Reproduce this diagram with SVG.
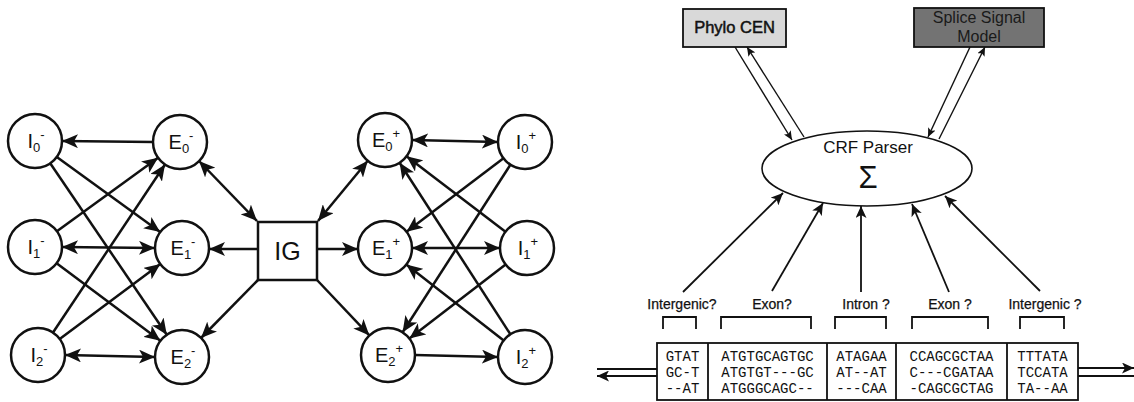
<svg xmlns="http://www.w3.org/2000/svg" width="1134" height="402" viewBox="0 0 1134 402">
  <style>
    .st { fill: #fff; stroke: #111; stroke-width: 2.5; }
    .lbl { font-family: "Liberation Sans", Arial, sans-serif; font-size: 20px; fill: #111; text-anchor: middle; }
    .sub { font-size: 13px; }
    .edge { stroke: #111; stroke-width: 2.5; fill: none; }
    .thin { stroke: #111; stroke-width: 1.8; fill: none; }
    .fine { stroke: #111; stroke-width: 1.4; fill: none; }
    .cap { font-family: "Liberation Sans", Arial, sans-serif; font-size: 14px; fill: #111; stroke: #111; stroke-width: 0.25; text-anchor: middle; }
    .seq { font-family: "Liberation Mono", "Courier New", monospace; font-size: 14px; fill: #111; text-anchor: middle; }
    .box { fill: #fff; stroke: #111; stroke-width: 1.8; }
  </style>
  <defs>
    <marker id="ah" markerUnits="userSpaceOnUse" markerWidth="17" markerHeight="14" refX="16" refY="7" orient="auto-start-reverse">
      <path d="M0,0 L16,7 L0,14 L4,7 z" fill="#111"/>
    </marker>
    <marker id="ahs" markerUnits="userSpaceOnUse" markerWidth="13" markerHeight="11" refX="12" refY="5.5" orient="auto-start-reverse">
      <path d="M0,0 L12,5.5 L0,11 L3,5.5 z" fill="#111"/>
    </marker>
    <marker id="aht" markerUnits="userSpaceOnUse" markerWidth="10" markerHeight="8" refX="9" refY="4" orient="auto-start-reverse">
      <path d="M0,0 L9,4 L0,8 L2,4 z" fill="#111"/>
    </marker>
  </defs>

  <rect width="1134" height="402" fill="#fff"/>

  <!-- state graph: connectors -->
  <g id="connectors">
    <line class="edge" x1="153" y1="142" x2="62" y2="141" marker-end="url(#ah)"/>
    <line class="edge" x1="199" y1="161" x2="257" y2="221" marker-start="url(#ah)" marker-end="url(#ah)"/>
    <line class="edge" x1="258" y1="249" x2="209" y2="249" marker-end="url(#ah)"/>
    <line class="edge" x1="258" y1="280" x2="201" y2="338" marker-end="url(#ah)"/>
    <line class="edge" x1="56.8" y1="156.9" x2="160.2" y2="232.1" marker-end="url(#ah)"/>
    <line class="edge" x1="50.2" y1="163.3" x2="166.8" y2="334.7" marker-end="url(#ah)"/>
    <line class="edge" x1="56.9" y1="231.2" x2="158.1" y2="157.8" marker-end="url(#ah)"/>
    <line class="edge" x1="62" y1="247" x2="155" y2="248" marker-start="url(#ah)" marker-end="url(#ah)"/>
    <line class="edge" x1="56.6" y1="263.2" x2="160.4" y2="340.8" marker-end="url(#ah)"/>
    <line class="edge" x1="53" y1="332.5" x2="165" y2="164.5" marker-end="url(#ah)"/>
    <line class="edge" x1="59.7" y1="338.9" x2="160.3" y2="264.1" marker-end="url(#ah)"/>
    <line class="edge" x1="65" y1="355" x2="155" y2="357" marker-start="url(#ah)" marker-end="url(#ah)"/>

    <line class="edge" x1="412" y1="140" x2="498" y2="142" marker-start="url(#ah)" marker-end="url(#ah)"/>
    <line class="edge" x1="318" y1="221" x2="367.8" y2="160.8" marker-start="url(#ah)" marker-end="url(#ah)"/>
    <line class="edge" x1="317" y1="249" x2="358" y2="249" marker-end="url(#ah)"/>
    <line class="edge" x1="317" y1="280" x2="369.4" y2="335.4" marker-end="url(#ah)"/>
    <line class="edge" x1="503.5" y1="158.3" x2="406.5" y2="231.7" marker-end="url(#ah)"/>
    <line class="edge" x1="510.4" y1="164.7" x2="402.6" y2="332.3" marker-end="url(#ah)"/>
    <line class="edge" x1="505.5" y1="231.7" x2="406.5" y2="156.3" marker-end="url(#ah)"/>
    <line class="edge" x1="412" y1="248" x2="500" y2="248" marker-start="url(#ah)" marker-end="url(#ah)"/>
    <line class="edge" x1="505.6" y1="264.5" x2="409.4" y2="338.5" marker-end="url(#ah)"/>
    <line class="edge" x1="510.4" y1="334.3" x2="399.6" y2="162.7" marker-end="url(#ah)"/>
    <line class="edge" x1="503.7" y1="340.4" x2="406.3" y2="264.6" marker-end="url(#ah)"/>
    <line class="edge" x1="415" y1="355" x2="498" y2="357" marker-end="url(#ah)"/>

    <!-- parser links -->
    <line class="fine" x1="735" y1="47" x2="792" y2="140" marker-end="url(#aht)"/>
    <line class="fine" x1="804" y1="137" x2="747" y2="47" marker-end="url(#aht)"/>
    <line class="fine" x1="970" y1="47" x2="928" y2="137" marker-end="url(#aht)"/>
    <line class="fine" x1="939" y1="139" x2="985" y2="47" marker-end="url(#aht)"/>

    <line class="thin" x1="683" y1="292" x2="783" y2="193" marker-end="url(#ahs)"/>
    <line class="thin" x1="772" y1="291" x2="823" y2="203" marker-end="url(#ahs)"/>
    <line class="thin" x1="861" y1="292" x2="861" y2="206" marker-end="url(#ahs)"/>
    <line class="thin" x1="949" y1="292" x2="912" y2="204" marker-end="url(#ahs)"/>
    <line class="thin" x1="1040" y1="291" x2="945" y2="196" marker-end="url(#ahs)"/>

    <!-- strand arrows -->
    <line class="thin" x1="597" y1="369" x2="657" y2="369"/>
    <line class="thin" x1="657" y1="376" x2="597" y2="376" marker-end="url(#ahs)"/>
    <line class="thin" x1="1078" y1="368" x2="1134" y2="368" marker-end="url(#ahs)"/>
    <line class="thin" x1="1078" y1="376" x2="1134" y2="376"/>
  </g>

  <!-- minus strand states -->
  <g id="I0m"><circle class="st" cx="35" cy="141" r="27"/><text class="lbl" x="36" y="148">I<tspan class="sub" dy="4">0</tspan><tspan class="sub" dy="-13">-</tspan></text></g>
  <g id="E0m"><circle class="st" cx="180" cy="142" r="27"/><text class="lbl" x="181" y="149">E<tspan class="sub" dy="4">0</tspan><tspan class="sub" dy="-13">-</tspan></text></g>
  <g id="I1m"><circle class="st" cx="35" cy="247" r="27"/><text class="lbl" x="36" y="254">I<tspan class="sub" dy="4">1</tspan><tspan class="sub" dy="-13">-</tspan></text></g>
  <g id="E1m"><circle class="st" cx="182" cy="248" r="27"/><text class="lbl" x="183" y="255">E<tspan class="sub" dy="4">1</tspan><tspan class="sub" dy="-13">-</tspan></text></g>
  <g id="I2m"><circle class="st" cx="38" cy="355" r="27"/><text class="lbl" x="39" y="362">I<tspan class="sub" dy="4">2</tspan><tspan class="sub" dy="-13">-</tspan></text></g>
  <g id="E2m"><circle class="st" cx="182" cy="357" r="27"/><text class="lbl" x="183" y="364">E<tspan class="sub" dy="4">2</tspan><tspan class="sub" dy="-13">-</tspan></text></g>

  <!-- intergenic state -->
  <g id="IG"><rect class="st" x="258" y="222" width="59" height="58"/><text class="lbl" x="287.5" y="260" style="font-size:25px">IG</text></g>

  <!-- plus strand states -->
  <g id="E0p"><circle class="st" cx="385" cy="140" r="27"/><text class="lbl" x="386" y="147">E<tspan class="sub" dy="4">0</tspan><tspan class="sub" dy="-13">+</tspan></text></g>
  <g id="I0p"><circle class="st" cx="525" cy="142" r="27"/><text class="lbl" x="526" y="149">I<tspan class="sub" dy="4">0</tspan><tspan class="sub" dy="-13">+</tspan></text></g>
  <g id="E1p"><circle class="st" cx="385" cy="248" r="27"/><text class="lbl" x="386" y="255">E<tspan class="sub" dy="4">1</tspan><tspan class="sub" dy="-13">+</tspan></text></g>
  <g id="I1p"><circle class="st" cx="527" cy="248" r="27"/><text class="lbl" x="528" y="255">I<tspan class="sub" dy="4">1</tspan><tspan class="sub" dy="-13">+</tspan></text></g>
  <g id="E2p"><circle class="st" cx="388" cy="355" r="27"/><text class="lbl" x="389" y="362">E<tspan class="sub" dy="4">2</tspan><tspan class="sub" dy="-13">+</tspan></text></g>
  <g id="I2p"><circle class="st" cx="525" cy="357" r="27"/><text class="lbl" x="526" y="364">I<tspan class="sub" dy="4">2</tspan><tspan class="sub" dy="-13">+</tspan></text></g>

  <!-- feature sources -->
  <g id="phylo">
    <rect x="683" y="9" width="103" height="38" fill="#d9d9d9" stroke="#111" stroke-width="1.8"/>
    <text x="734.5" y="33" style="font-family:'Liberation Sans',Arial,sans-serif;font-size:16.5px;fill:#111;stroke:#111;stroke-width:0.5;text-anchor:middle">Phylo CEN</text>
  </g>
  <g id="splice">
    <rect x="914" y="8" width="130" height="39" fill="#737373" stroke="#111" stroke-width="1.8"/>
    <text x="979" y="23" style="font-family:'Liberation Sans',Arial,sans-serif;font-size:16px;fill:#1a1a1a;text-anchor:middle">Splice Signal</text>
    <text x="979" y="42" style="font-family:'Liberation Sans',Arial,sans-serif;font-size:16px;fill:#1a1a1a;text-anchor:middle">Model</text>
  </g>

  <!-- parser -->
  <g id="parser">
    <ellipse cx="867" cy="168.5" rx="105" ry="37.5" fill="#fff" stroke="#111" stroke-width="1.6"/>
    <text x="868" y="153" style="font-family:'Liberation Sans',Arial,sans-serif;font-size:17px;fill:#111;text-anchor:middle">CRF Parser</text>
    <text x="868" y="188" style="font-family:'Liberation Sans',Arial,sans-serif;font-size:31px;fill:#111;text-anchor:middle">Σ</text>
  </g>

  <!-- segment labels and brackets -->
  <g id="segments">
    <text class="cap" x="682" y="309">Intergenic?</text>
    <text class="cap" x="772" y="309">Exon?</text>
    <text class="cap" x="866" y="309">Intron ?</text>
    <text class="cap" x="950" y="309">Exon ?</text>
    <text class="cap" x="1045" y="309">Intergenic ?</text>
    <path class="thin" d="M663,329 V317 H696 V329 M721,329 V317 H811 V329 M835,329 V317 H886 V329 M912,329 V317 H988 V329 M1020,329 V317 H1064 V329" stroke-width="2"/>
  </g>

  <!-- alignment block -->
  <g id="alignment">
    <rect class="box" x="657" y="343" width="421" height="57"/>
    <path d="M708,343 V400 M827,343 V400 M896,343 V400 M1007,343 V400" stroke="#111" stroke-width="1.8"/>
    <text class="seq" x="682.5" y="361">GTAT</text>
    <text class="seq" x="682.5" y="377">GC-T</text>
    <text class="seq" x="682.5" y="393">--AT</text>
    <text class="seq" x="767.5" y="361">ATGTGCAGTGC</text>
    <text class="seq" x="767.5" y="377">ATGTGT---GC</text>
    <text class="seq" x="767.5" y="393">ATGGGCAGC--</text>
    <text class="seq" x="861.5" y="361">ATAGAA</text>
    <text class="seq" x="861.5" y="377">AT--AT</text>
    <text class="seq" x="861.5" y="393">---CAA</text>
    <text class="seq" x="951.5" y="361">CCAGCGCTAA</text>
    <text class="seq" x="951.5" y="377">C---CGATAA</text>
    <text class="seq" x="951.5" y="393">-CAGCGCTAG</text>
    <text class="seq" x="1042.5" y="361">TTTATA</text>
    <text class="seq" x="1042.5" y="377">TCCATA</text>
    <text class="seq" x="1042.5" y="393">TA--AA</text>
  </g>
</svg>
